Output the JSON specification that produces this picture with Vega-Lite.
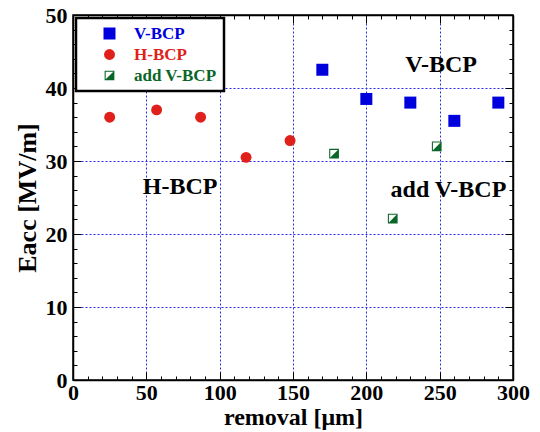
{
  "$schema": "https://vega.github.io/schema/vega-lite/v6.json",
  "width": 440,
  "height": 365,
  "autosize": "none",
  "padding": {"left": 73, "top": 15, "right": 27, "bottom": 52},
  "background": "white",
  "config": {
    "view": {"stroke": "black", "strokeWidth": 1.5},
    "font": "Liberation Serif",
    "legend": {"strokeWidth": 2.5}
  },
  "datasets": {
    "pts": [
      {"series": "V-BCP", "removal": 170, "eacc": 42.5},
      {"series": "V-BCP", "removal": 200, "eacc": 38.5},
      {"series": "V-BCP", "removal": 230, "eacc": 38.0},
      {"series": "V-BCP", "removal": 260, "eacc": 35.5},
      {"series": "V-BCP", "removal": 290, "eacc": 38.0},
      {"series": "H-BCP", "removal": 25, "eacc": 36.0},
      {"series": "H-BCP", "removal": 57, "eacc": 37.0},
      {"series": "H-BCP", "removal": 87, "eacc": 36.0},
      {"series": "H-BCP", "removal": 118, "eacc": 30.5},
      {"series": "H-BCP", "removal": 148, "eacc": 32.8},
      {"series": "add V-BCP", "removal": 178, "eacc": 31.0},
      {"series": "add V-BCP", "removal": 218, "eacc": 22.1},
      {"series": "add V-BCP", "removal": 248, "eacc": 32.0}
    ],
    "notes": [
      {"label": "V-BCP", "removal": 251, "eacc": 43.1},
      {"label": "H-BCP", "removal": 73, "eacc": 26.4},
      {"label": "add V-BCP", "removal": 256, "eacc": 26.0}
    ]
  },
  "layer": [
    {
      "data": {"name": "pts"},
      "mark": {"type": "point", "filled": true, "opacity": 1, "strokeWidth": 0},
      "encoding": {
        "x": {
          "field": "removal", "type": "quantitative",
          "scale": {"domain": [0, 300], "nice": false, "zero": false},
          "axis": {
            "orient": "bottom",
            "title": "removal [\u03bcm]",
            "titleFont": "Liberation Serif", "titleFontSize": 24, "titleFontWeight": "bold", "titleColor": "black",
            "titlePadding": -2,
            "values": [0,10,20,30,40,50,60,70,80,90,100,110,120,130,140,150,160,170,180,190,200,210,220,230,240,250,260,270,280,290,300],
            "labelExpr": "datum.value % 50 === 0 ? datum.label : ''",
            "labelFont": "Liberation Serif", "labelFontSize": 22, "labelFontWeight": "bold", "labelColor": "black",
            "labelOverlap": false, "labelFlush": false,
            "labelPadding": 10,
            "tickColor": "black", "tickWidth": 1,
            "tickSize": {"condition": {"test": "datum.value % 50 === 0", "value": -8}, "value": -4},
            "domain": true, "domainColor": "black", "domainWidth": 1.5,
            "grid": true, "gridColor": "#2a2aee", "gridDash": [2, 2], "gridWidth": 1,
            "gridOpacity": {"condition": {"test": "datum.value % 50 === 0", "value": 1}, "value": 0}
          }
        },
        "y": {
          "field": "eacc", "type": "quantitative",
          "scale": {"domain": [0, 50], "nice": false, "zero": false},
          "axis": {
            "orient": "left",
            "title": "Eacc [MV/m]",
            "titleFont": "Liberation Serif", "titleFontSize": 26, "titleFontWeight": "bold", "titleColor": "black",
            "titlePadding": 5,
            "values": [0,2,4,6,8,10,12,14,16,18,20,22,24,26,28,30,32,34,36,38,40,42,44,46,48,50],
            "labelExpr": "datum.value % 10 === 0 ? datum.label : ''",
            "labelFont": "Liberation Serif", "labelFontSize": 22, "labelFontWeight": "bold", "labelColor": "black",
            "labelOverlap": false, "labelFlush": false,
            "labelPadding": 14,
            "tickColor": "black", "tickWidth": 1,
            "tickSize": {"condition": {"test": "datum.value % 10 === 0", "value": -8}, "value": -4},
            "domain": true, "domainColor": "black", "domainWidth": 1.5,
            "grid": true, "gridColor": "#2a2aee", "gridDash": [2, 2], "gridWidth": 1,
            "gridOpacity": {"condition": {"test": "datum.value % 10 === 0", "value": 1}, "value": 0}
          }
        },
        "shape": {
          "field": "series", "type": "nominal",
          "scale": {
            "domain": ["V-BCP", "H-BCP", "add V-BCP"],
            "range": ["square", "circle", "M-1,-1L1,-1L1,1L-1,1ZM-0.78,-0.78L-0.78,0.78L0.78,0.78L0.78,-0.78ZM0.78,-0.78L0.78,0.78L-0.78,0.78Z"]
          },
          "legend": {
            "orient": "top-left", "offset": 3,
            "title": null,
            "fillColor": "white", "strokeColor": "black",
            "padding": 7, "cornerRadius": 0,
            "rowPadding": 3,
            "symbolOffset": 18,
            "labelOffset": 16,
            "labelFont": "Liberation Serif", "labelFontSize": 17, "labelFontWeight": "bold",
            "labelColor": {"expr": "datum.label === 'V-BCP' ? '#0000dd' : datum.label === 'H-BCP' ? '#e0201a' : '#0a6628'"},
            "symbolStrokeWidth": 0,
            "encode": {"legend": {"update": {"strokeWidth": {"value": 2.5}}}}
          }
        },
        "color": {
          "field": "series", "type": "nominal",
          "scale": {"domain": ["V-BCP", "H-BCP", "add V-BCP"], "range": ["#0000dd", "#e0201a", "#0a6628"]}
        },
        "size": {
          "field": "series", "type": "nominal",
          "scale": {"domain": ["V-BCP", "H-BCP", "add V-BCP"], "range": [144, 95, 130]}
        }
      }
    },
    {
      "data": {"name": "notes"},
      "mark": {"type": "text", "font": "Liberation Serif", "fontSize": 24, "fontWeight": "bold", "color": "black", "align": "center", "baseline": "middle"},
      "encoding": {
        "text": {"field": "label"},
        "x": {
          "field": "removal", "type": "quantitative",
          "axis": {
            "orient": "top", "title": null, "labels": false,
            "values": [0,10,20,30,40,50,60,70,80,90,100,110,120,130,140,150,160,170,180,190,200,210,220,230,240,250,260,270,280,290,300],
            "tickColor": "black", "tickWidth": 1,
            "tickSize": {"condition": {"test": "datum.value % 50 === 0", "value": -8}, "value": -4},
            "domain": true, "domainColor": "black", "domainWidth": 1.5, "grid": false
          }
        },
        "y": {
          "field": "eacc", "type": "quantitative",
          "axis": {
            "orient": "right", "title": null, "labels": false,
            "values": [0,2,4,6,8,10,12,14,16,18,20,22,24,26,28,30,32,34,36,38,40,42,44,46,48,50],
            "tickColor": "black", "tickWidth": 1,
            "tickSize": {"condition": {"test": "datum.value % 10 === 0", "value": -8}, "value": -4},
            "domain": true, "domainColor": "black", "domainWidth": 1.5, "grid": false
          }
        }
      }
    }
  ],
  "resolve": {"axis": {"x": "independent", "y": "independent"}}
}
